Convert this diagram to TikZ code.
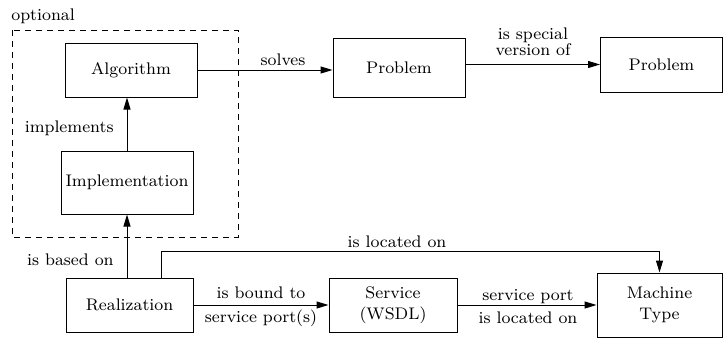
\documentclass[tikz,border=0pt]{standalone}
\usetikzlibrary{positioning, arrows.meta, calc}

\begin{document}
\begin{tikzpicture}[x=0.5pt, y=-0.5pt, font=\fontsize{8.4}{10.5}\selectfont,
  box/.style={draw, line width=0.5pt, inner sep=0pt, align=center},
  rel/.style={line width=0.5pt, -{Triangle[length=6pt,width=3.5pt]}},
  lbl/.style={inner sep=1pt, align=center}]
\useasboundingbox (0,0) rectangle (723,338);
% optional part
\draw[line width=0.5pt, dash pattern=on 3pt off 2.5pt] (12,30) rectangle (238,237);
\node[anchor=west, inner sep=0pt] (opt) at (11,16) {optional};
\node[box, minimum width=66pt, minimum height=27pt] (alg) at (131,70) {Algorithm};
\node[box, minimum width=66pt, minimum height=31.5pt] (impl) at (127,182.5) {Implementation};
% problems
\node[box, minimum width=66pt, minimum height=29.5pt] (prob) at (399,67.5) {Problem};
\node[box, minimum width=61pt, minimum height=27.5pt] (probsup) at (661.5,64.5) {Problem};
% bottom row
\node[box, minimum width=63.5pt, minimum height=27pt] (realiz) at (129.5,305) {Realization};
\node[box, minimum width=64pt, minimum height=27pt] (serv) at (393,305) {Service\\(WSDL)};
\node[box, minimum width=62.5pt, minimum height=32pt] (mach) at (659.5,305) {Machine\\Type};
\coordinate (bend) at (161,251);

\draw[rel] (impl.north) -- (impl.north |- alg.south);
\node[lbl, anchor=east] (implements) at (116,128) {implements};
\draw[rel] (impl.south |- realiz.north) -- (impl.south);
\node[lbl, anchor=east] (basedon) at (116,260) {is based on};
\draw[rel] (alg.east) -- (prob.west |- alg.east);
\node[lbl] (solves) at (283,60) {solves};
\draw[rel] (probsup.west -| prob.east) -- (probsup.west);
\node[lbl, font=\fontsize{8.4}{8}\selectfont] (special) at (533,42) {is special\\version of};
\draw[rel] (realiz.east) -- (serv.west);
\node[lbl] (bound) at (261,293) {is bound to};
\node[lbl] (ports) at (261,318) {service port(s)};
\draw[rel] (serv.east) -- (mach.west);
\node[lbl] (sport) at (528,297) {service port};
\node[lbl] (sloc) at (528,318) {is located on};
\draw[rel] (bend |- realiz.north) -- (bend) -| (mach.north);
\node[lbl] (located) at (397,242) {is located on};
\end{tikzpicture}
\end{document}
